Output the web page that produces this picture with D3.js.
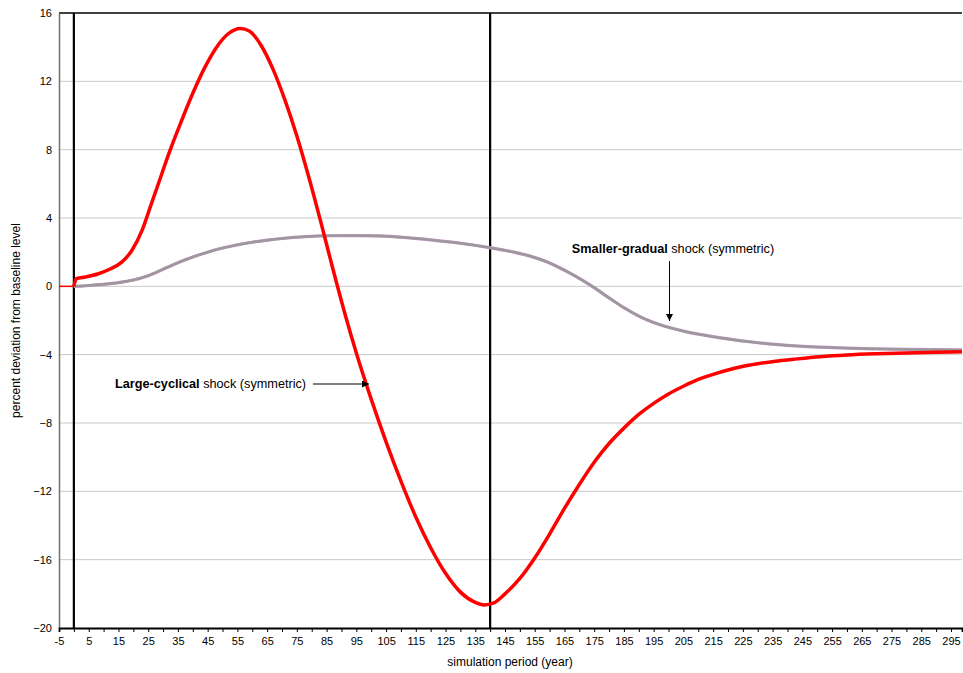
<!DOCTYPE html>
<html>
<head>
<meta charset="utf-8">
<script src="https://cdn.jsdelivr.net/npm/d3@7"></script>
<style>
  body { margin: 0; background: #fff; }
  svg text { font-family: "Liberation Sans", Arial, sans-serif; }
</style>
</head>
<body>
<div id="chart"></div>
<script>
// data
const largePeriods = [0, 0.8, 4, 8, 12, 16, 19.5, 23, 26, 29, 32, 36, 40, 44, 48, 52, 56, 59, 63, 67, 71, 75, 79, 83, 87, 91, 95, 100, 105, 110, 115, 120, 125, 130, 135, 138, 141, 145, 150, 155, 160, 165, 170, 175, 180, 185, 190, 195, 200, 205, 210, 215, 220, 226, 231, 236, 242, 251, 260, 270, 280, 290, 298.7];
const largeValues = [0, 0.45, 0.55, 0.72, 1.0, 1.4, 2.1, 3.3, 4.8, 6.3, 7.8, 9.6, 11.3, 12.8, 14.0, 14.8, 15.1, 14.95, 14.1, 12.7, 10.9, 8.8, 6.4, 3.8, 1.1, -1.5, -3.9, -6.6, -9.1, -11.4, -13.5, -15.3, -16.8, -17.9, -18.5, -18.65, -18.55, -18.0, -17.1, -15.9, -14.5, -13.0, -11.6, -10.3, -9.2, -8.3, -7.5, -6.85, -6.3, -5.85, -5.45, -5.15, -4.9, -4.65, -4.5, -4.38, -4.27, -4.12, -4.02, -3.95, -3.9, -3.86, -3.83];

const gradualPeriods = [0, 5, 10, 15, 20, 25, 30, 35, 40, 45, 50, 55, 60, 65, 70, 78, 86, 95, 103, 112, 120, 130, 140, 148, 154, 159, 163, 167, 171, 175, 180, 185, 190, 195, 200, 205, 210, 220, 228, 236, 244, 251, 260, 270, 280, 298.7];
const gradualValues = [0, 0.05, 0.12, 0.22, 0.37, 0.62, 1.0, 1.38, 1.72, 2.0, 2.24, 2.43, 2.58, 2.7, 2.8, 2.91, 2.96, 2.97, 2.95, 2.85, 2.72, 2.52, 2.26, 2.0, 1.74, 1.44, 1.12, 0.76, 0.36, -0.08, -0.68, -1.25, -1.74, -2.12, -2.4, -2.62, -2.8, -3.08, -3.26, -3.4, -3.5, -3.56, -3.62, -3.66, -3.69, -3.72];

const prePeriods = [-5, 0];
const preValues = [0, 0];

const markerPeriods = [0, 140];
const yTicks = [-20, -16, -12, -8, -4, 0, 4, 8, 12, 16];
const xLabelTicks = d3.range(-5, 296, 10);
const xMinorTicks = d3.range(-5, 296, 5);

const width = 963, height = 673;
const margin = { top: 13, right: 1, bottom: 45, left: 59 };

const svg = d3.select("#chart").append("svg")
    .attr("width", width)
    .attr("height", height);

const x = d3.scaleLinear().domain([-5, 298.7]).range([margin.left, width - margin.right]);
const y = d3.scaleLinear().domain([-20, 16]).range([height - margin.bottom, margin.top]);

// gridlines
svg.append("g").selectAll("line")
    .data(yTicks.filter(d => d !== -20 && d !== 16))
    .join("line")
    .attr("x1", x(-5)).attr("x2", x(298.7))
    .attr("y1", d => y(d)).attr("y2", d => y(d))
    .attr("stroke", "#c8c8c8")
    .attr("stroke-width", 1);

// top border
svg.append("line")
    .attr("x1", x(-5)).attr("x2", x(298.7))
    .attr("y1", y(16)).attr("y2", y(16))
    .attr("stroke", "#000").attr("stroke-width", 1.5);

// left axis
const yAxis = d3.axisLeft(y).tickValues(yTicks).tickSize(0).tickPadding(7);
const gy = svg.append("g").attr("transform", `translate(${x(-5)},0)`).call(yAxis);
gy.select(".domain").attr("stroke", "#707070").attr("stroke-width", 1.5);
gy.selectAll("text").attr("font-size", 11).attr("fill", "#000")
    .style("font-family", "'Liberation Sans', Arial, sans-serif");

// bottom axis
const xAxis = d3.axisBottom(x).tickValues(xMinorTicks).tickSize(4).tickPadding(5)
    .tickFormat(d => xLabelTicks.includes(d) ? d : "");
const gx = svg.append("g").attr("transform", `translate(0,${y(-20)})`).call(xAxis);
gx.select(".domain").attr("stroke", "#000").attr("stroke-width", 1.8);
gx.selectAll(".tick line").attr("stroke", "#000").attr("stroke-width", 1);
gx.selectAll("text").attr("font-size", 11).attr("fill", "#000")
    .style("font-family", "'Liberation Sans', Arial, sans-serif");

// vertical markers
svg.append("g").selectAll("line")
    .data(markerPeriods)
    .join("line")
    .attr("x1", d => x(d)).attr("x2", d => x(d))
    .attr("y1", y(16)).attr("y2", y(-20))
    .attr("stroke", "#000").attr("stroke-width", 2.2);

const line = d3.line().x(d => x(d[0])).y(d => y(d[1])).curve(d3.curveMonotoneX);

// pre-shock thin lines
svg.append("path")
    .datum(d3.zip(prePeriods, preValues))
    .attr("d", line)
    .attr("fill", "none").attr("stroke", "#ff0000").attr("stroke-width", 1.5);

// smaller-gradual (purple edge under gray)
const gradual = d3.zip(gradualPeriods, gradualValues);
svg.append("path").datum(gradual).attr("d", line)
    .attr("fill", "none").attr("stroke", "#c890c8").attr("stroke-width", 3.2);
svg.append("path").datum(gradual).attr("d", line)
    .attr("fill", "none").attr("stroke", "#9a9a9a").attr("stroke-width", 2.4);

// large-cyclical
svg.append("path").datum(d3.zip(largePeriods, largeValues)).attr("d", line)
    .attr("fill", "none").attr("stroke", "#ff0000").attr("stroke-width", 3.5)
    .attr("stroke-linejoin", "round");

// annotations
const defs = svg.append("defs");
defs.append("marker")
    .attr("id", "arrow")
    .attr("viewBox", "0 0 10 10")
    .attr("refX", 10).attr("refY", 5)
    .attr("markerWidth", 7).attr("markerHeight", 7)
    .attr("markerUnits", "userSpaceOnUse")
    .attr("orient", "auto")
    .append("path")
    .attr("d", "M0,0 L10,5 L0,10 Z")
    .attr("fill", "#000");

const t1 = svg.append("text")
    .attr("x", 115).attr("y", 388)
    .attr("font-size", 12.7).attr("fill", "#000");
t1.append("tspan").attr("font-weight", "bold").text("Large-cyclical");
t1.append("tspan").text(" shock (symmetric)");

svg.append("line")
    .attr("x1", 313).attr("x2", 369)
    .attr("y1", 384).attr("y2", 384)
    .attr("stroke", "#000").attr("stroke-width", 1)
    .attr("marker-end", "url(#arrow)");

const t2 = svg.append("text")
    .attr("x", 673).attr("y", 253)
    .attr("text-anchor", "middle")
    .attr("font-size", 12.7).attr("fill", "#000");
t2.append("tspan").attr("font-weight", "bold").text("Smaller-gradual");
t2.append("tspan").text(" shock (symmetric)");

svg.append("line")
    .attr("x1", 669.5).attr("x2", 669.5)
    .attr("y1", 261).attr("y2", 321)
    .attr("stroke", "#000").attr("stroke-width", 1)
    .attr("marker-end", "url(#arrow)");

// axis titles
svg.append("text")
    .attr("x", 510).attr("y", 666)
    .attr("text-anchor", "middle")
    .attr("font-size", 12)
    .text("simulation period (year)");

svg.append("text")
    .attr("transform", `translate(20,${(y(16) + y(-20)) / 2}) rotate(-90)`)
    .attr("text-anchor", "middle")
    .attr("font-size", 12)
    .text("percent deviation from baseline level");
</script>
</body>
</html>
